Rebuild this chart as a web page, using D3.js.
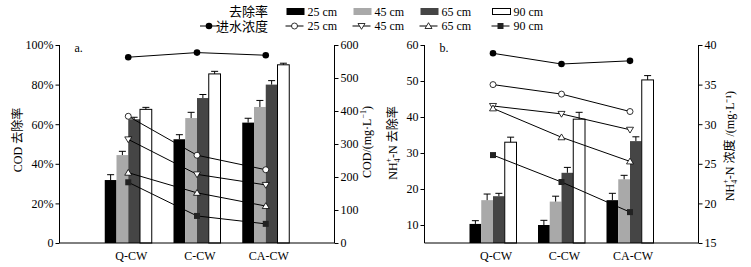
<!DOCTYPE html>
<html>
<head>
<meta charset="utf-8">
<script src="https://cdn.jsdelivr.net/npm/d3@7"></script>
<style>
  body { margin: 0; background: #fff; }
  svg text { font-family: "Liberation Serif", "Times New Roman", "Noto Sans CJK SC", serif; }
</style>
</head>
<body>
<script>
// data
var categories = ["Q-CW", "C-CW", "CA-CW"];
var depths = ["25 cm", "45 cm", "65 cm", "90 cm"];

// COD removal (%) per depth, one value per wetland
var codRemoval = [[31.8, 52.4, 60.8], [44.4, 63.1, 68.7], [62.5, 73.2, 80.0], [67.5, 85.4, 90.0]];
var codErr = [[2.7, 2.3, 2.2], [1.9, 2.9, 3.3], [1.0, 1.8, 2.0], [1.0, 1.3, 0.8]];
var codInflow = [563, 577, 569];
var codConc = [[384, 266, 222], [314, 208, 176], [213, 152, 112], [184, 82, 58]];

// NH4+-N removal (%) and concentration (mg/L)
var nh4Removal = [[10.3, 10.0, 16.9], [16.9, 16.5, 22.7], [18.0, 24.5, 33.3], [33.0, 39.4, 50.3]];
var nh4Err = [[0.9, 1.3, 1.9], [1.7, 1.5, 1.1], [0.8, 1.5, 1.2], [1.4, 1.9, 1.2]];
var nh4Inflow = [38.95, 37.6, 38.0];
var nh4Conc = [[35.0, 33.8, 31.6], [32.3, 31.3, 29.3], [32.0, 28.35, 25.3], [26.1, 22.7, 18.9]];

var codLeftTicks = [0, 20, 40, 60, 80, 100];
var codRightTicks = [0, 100, 200, 300, 400, 500, 600];
var nh4LeftTicks = [10, 20, 30, 40, 50, 60];
var nh4RightTicks = [15, 20, 25, 30, 35, 40];

var barColors = ["#000000", "#a9a9a9", "#454545", "#ffffff"];
var markers = ["circle", "down", "up", "square"];

var svg = d3.select("body").append("svg")
  .attr("width", 751)
  .attr("height", 267);

var plotTop = 45, plotBottom = 243;

function drawMarker(g, type, x, y) {
  if (type == "dot") {
    g.append("circle").attr("cx", x).attr("cy", y).attr("r", 3.3).attr("fill", "#000");
  } else if (type == "circle") {
    g.append("circle").attr("cx", x).attr("cy", y).attr("r", 3).attr("fill", "#fff").attr("stroke", "#000").attr("stroke-width", 0.8);
  } else if (type == "down") {
    g.append("path").attr("d", "M" + (x - 3.5) + "," + (y - 2.5) + "L" + (x + 3.5) + "," + (y - 2.5) + "L" + x + "," + (y + 3.3) + "Z")
      .attr("fill", "#fff").attr("stroke", "#000").attr("stroke-width", 0.8);
  } else if (type == "up") {
    g.append("path").attr("d", "M" + (x - 3.5) + "," + (y + 2.5) + "L" + (x + 3.5) + "," + (y + 2.5) + "L" + x + "," + (y - 3.3) + "Z")
      .attr("fill", "#fff").attr("stroke", "#000").attr("stroke-width", 0.8);
  } else if (type == "square") {
    g.append("rect").attr("x", x - 3).attr("y", y - 3).attr("width", 6).attr("height", 6).attr("fill", "#222");
  }
}

function nh4Text(t, suffix) {
  t.append("tspan").text("NH");
  t.append("tspan").attr("font-size", "8px").attr("dy", 3).text("4");
  t.append("tspan").attr("font-size", "8px").attr("dx", -4).attr("dy", -9).text("+");
  t.append("tspan").attr("dy", 6).text(suffix);
}

function drawPanel(o) {
  var g = svg.append("g");
  var x = d3.scalePoint().domain(categories).range([o.x0, o.x1]).padding(1);
  var sub = d3.scaleBand().domain(depths).range([-23.5, 23.5]);
  var yL = d3.scaleLinear().domain(o.leftDomain).range([plotBottom, plotTop]);
  var yR = d3.scaleLinear().domain(o.rightDomain).range([plotBottom, plotTop]);

  // bars
  depths.forEach(function(dep, j) {
    var bars = g.append("g");
    bars.selectAll("rect")
      .data(o.removal[j])
      .enter()
      .append("rect")
      .attr("x", function(d, i) { return x(categories[i]) + sub(dep); })
      .attr("y", function(d) { return yL(d); })
      .attr("width", sub.bandwidth())
      .attr("height", function(d) { return plotBottom - yL(d); })
      .attr("fill", barColors[j])
      .attr("stroke", j == 3 ? "#000" : "none")
      .attr("stroke-width", 1);
    // error bars, upper half only
    o.removal[j].forEach(function(d, i) {
      var cx = x(categories[i]) + sub(dep) + sub.bandwidth() / 2;
      var y2 = yL(d + o.err[j][i]);
      g.append("line").attr("x1", cx).attr("x2", cx).attr("y1", yL(d)).attr("y2", y2).attr("stroke", "#000");
      g.append("line").attr("x1", cx - 3.5).attr("x2", cx + 3.5).attr("y1", y2).attr("y2", y2).attr("stroke", "#000");
    });
  });

  // concentration lines
  var line = d3.line()
    .x(function(d, i) { return x(categories[i]); })
    .y(function(d) { return yR(d); });

  var series = [o.inflow].concat(o.conc);
  var types = ["dot"].concat(markers);
  series.forEach(function(s, k) {
    g.append("path").attr("d", line(s)).attr("fill", "none").attr("stroke", "#000").attr("stroke-width", 1);
    s.forEach(function(d, i) { drawMarker(g, types[k], x(categories[i]), yR(d)); });
  });

  // axes
  var axL = g.append("g").attr("transform", "translate(" + o.x0 + ",0)")
    .call(d3.axisLeft(yL).tickValues(o.leftTicks).tickSize(4).tickSizeOuter(0).tickFormat(o.leftFormat));
  var axR = g.append("g").attr("transform", "translate(" + o.x1 + ",0)")
    .call(d3.axisRight(yR).tickValues(o.rightTicks).tickSize(4).tickSizeOuter(0));
  [axL, axR].forEach(function(a) {
    a.select(".domain").attr("stroke", "#000").attr("d", "M0," + plotTop + "V" + plotBottom);
    a.selectAll(".tick line").attr("stroke", "#000");
    a.selectAll("text").attr("font-size", "12px").attr("fill", "#000")
      .style("font-family", "'Liberation Serif', serif");
  });
  axL.selectAll("text").attr("x", -6);
  axR.selectAll("text").attr("x", 6);

  g.append("line").attr("x1", o.x0).attr("x2", o.x1).attr("y1", plotBottom).attr("y2", plotBottom).attr("stroke", "#000");

  g.selectAll(".cat")
    .data(categories)
    .enter()
    .append("text")
    .attr("x", function(d) { return x(d) + 3; })
    .attr("y", 260)
    .attr("text-anchor", "middle")
    .attr("font-size", "12px")
    .text(function(d) { return d; });

  g.append("text").attr("x", o.x0 + 15).attr("y", 52).attr("font-size", "12px").text(o.tag);

  return g;
}

drawPanel({
  x0: 59.5, x1: 334.5,
  leftDomain: [0, 100], rightDomain: [0, 600],
  leftTicks: codLeftTicks, rightTicks: codRightTicks,
  leftFormat: function(d) { return d == 0 ? "0" : d + "%"; },
  removal: codRemoval, err: codErr, inflow: codInflow, conc: codConc,
  tag: "a."
});

drawPanel({
  x0: 424.5, x1: 698.5,
  leftDomain: [5, 60], rightDomain: [15, 40],
  leftTicks: nh4LeftTicks, rightTicks: nh4RightTicks,
  leftFormat: d3.format("d"),
  removal: nh4Removal, err: nh4Err, inflow: nh4Inflow, conc: nh4Conc,
  tag: "b."
});

// axis titles
svg.append("text").attr("transform", "translate(22,140) rotate(-90)")
  .attr("text-anchor", "middle").attr("font-size", "12px").text("COD 去除率");
svg.append("text").attr("transform", "translate(371,142) rotate(-90)")
  .attr("text-anchor", "middle").attr("font-size", "12px")
  .html("COD/(mg·L<tspan font-size='8px' dy='-5'>−1</tspan><tspan dy='5'>)</tspan>");
nh4Text(svg.append("text").attr("transform", "translate(397,143) rotate(-90)")
  .attr("text-anchor", "middle").attr("font-size", "12px"), "-N 去除率");
nh4Text(svg.append("text").attr("transform", "translate(734,146) rotate(-90)")
  .attr("text-anchor", "middle").attr("font-size", "12px"), "-N 浓度 /(mg·L⁻¹)");

// legend
var leg = svg.append("g");
var legX = [286.5, 353.5, 420.5, 492.5];
leg.append("text").attr("x", 268).attr("y", 16).attr("text-anchor", "end").attr("font-size", "13px").text("去除率");
leg.append("text").attr("x", 268).attr("y", 31).attr("text-anchor", "end").attr("font-size", "13px").text("进水浓度");
leg.append("line").attr("x1", 200).attr("x2", 218).attr("y1", 26).attr("y2", 26).attr("stroke", "#000");
drawMarker(leg, "dot", 209, 26);

depths.forEach(function(dep, j) {
  leg.append("rect").attr("x", legX[j]).attr("y", j == 3 ? 8.5 : 8).attr("width", 18).attr("height", j == 3 ? 6 : 7)
    .attr("fill", barColors[j]).attr("stroke", j == 3 ? "#000" : "none");
  leg.append("text").attr("x", legX[j] + 21).attr("y", 16).attr("font-size", "12px").text(dep);
  leg.append("line").attr("x1", legX[j] - 1).attr("x2", legX[j] + 17).attr("y1", 26).attr("y2", 26).attr("stroke", "#000");
  drawMarker(leg, markers[j], legX[j] + 8, 26);
  leg.append("text").attr("x", legX[j] + 21).attr("y", 30).attr("font-size", "12px").text(dep);
});
</script>
</body>
</html>
